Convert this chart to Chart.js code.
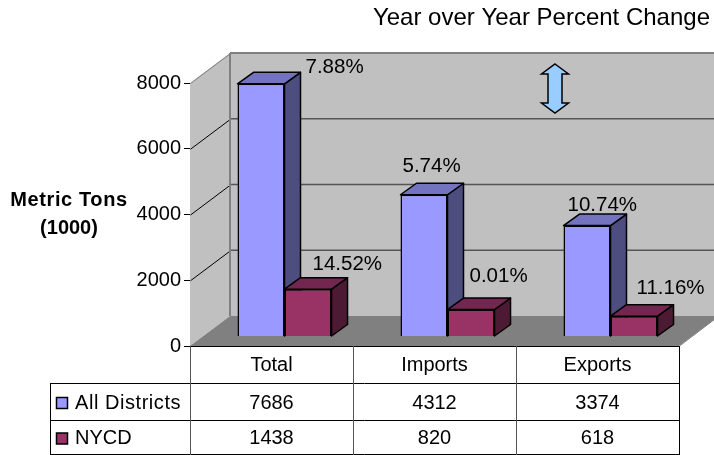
<!DOCTYPE html>
<html><head><meta charset="utf-8">
<style>html,body{margin:0;padding:0;background:#fff}canvas{display:block}</style>
<script src="https://cdn.jsdelivr.net/npm/chart.js@4"></script>
</head><body><canvas id="c" width="714" height="455"></canvas>
<script>
const categories = ['Total','Imports','Exports'];
const allDistricts = [7686,4312,3374];
const nycd = [1438,820,618];
const allChange = ['7.88%','5.74%','10.74%'];
const nycdChange = ['14.52%','0.01%','11.16%'];
const yTicks = [0,2000,4000,6000,8000];
const seriesNames = ['All Districts','NYCD'];
const chartTitle = 'Year over Year Percent Change';
const yTitle = ['Metric Tons','(1000)'];

const FONT = '"Liberation Sans", Arial, sans-serif';
const FS = 20;
const WALL = {dx:40, dy:-30};
const PLANE = {dx:13, dy:-9.5};
const BAR3D = {dx:16, dy:-11.5};
const faces = [{side:'#4D4D80',top:'#7373BF'},{side:'#4D1A33',top:'#732650'}];
// label placement relative to each bar's top-right front corner (x: left edge of text, y: middle)
const labelNudge = [[[21,-16],[-45,-28],[-43,-20]],[[-19,-25],[-25,-33],[-21,-28]]];

function poly(ctx,pts,fill,stroke,lw){
  ctx.beginPath();pts.forEach((p,i)=>i?ctx.lineTo(p[0],p[1]):ctx.moveTo(p[0],p[1]));ctx.closePath();
  if(fill){ctx.fillStyle=fill;ctx.fill();}
  if(stroke){ctx.strokeStyle=stroke;ctx.lineWidth=lw||1;ctx.stroke();}
}
const scene = {
  id:'scene',
  beforeDatasetsDraw(chart){
    const {ctx,chartArea:a,scales:{y}}=chart;
    const L=a.left,R=a.right,T=a.top,B=a.bottom,dx=WALL.dx,dy=WALL.dy;
    ctx.save();
    poly(ctx,[[L+dx,T+dy],[R+dx,T+dy],[R+dx,B+dy],[L+dx,B+dy]],'#C0C0C0');
    poly(ctx,[[L,T],[L+dx,T+dy],[L+dx,B+dy],[L,B]],'#C0C0C0');
    poly(ctx,[[L,B],[L+dx,B+dy],[R+dx,B+dy],[R,B]],'#808080');
    yTicks.forEach(v=>{
      if(v===0) return;
      const p=y.getPixelForValue(v);
      ctx.lineWidth=1;ctx.strokeStyle=v===8000?'#808080':'#000';
      ctx.beginPath();ctx.moveTo(L+.5,p+.5);ctx.lineTo(L+dx+.5,p+dy+.5);ctx.stroke();
      ctx.strokeStyle=v===8000?'#808080':'#555';ctx.lineWidth=v===8000?2:1.5;
      ctx.beginPath();ctx.moveTo(L+dx,p+dy);ctx.lineTo(R+dx,p+dy);ctx.stroke();
    });
    ctx.strokeStyle='#808080';ctx.lineWidth=2;
    ctx.beginPath();ctx.moveTo(L+dx,T+dy);ctx.lineTo(L+dx,B+dy);ctx.stroke();
    ctx.strokeStyle='#808080';ctx.lineWidth=1;
    ctx.beginPath();ctx.moveTo(R+.5,B);ctx.lineTo(R+dx,B+dy);ctx.stroke();
    // depth faces of the bars: first series, then second, so the second overlaps the first
    ctx.translate(PLANE.dx,PLANE.dy);
    ctx.lineJoin='round';
    [0,1].forEach(j=>{
      const f=faces[j],d=BAR3D;
      chart.getDatasetMeta(j).data.forEach(b=>{
        const l=b.x-b.width/2,r=b.x+b.width/2,t=b.y,base=b.base;
        poly(ctx,[[r,t],[r+d.dx,t+d.dy],[r+d.dx,base+d.dy],[r,base]],f.side,'#000',1.5);
        poly(ctx,[[l,t],[l+d.dx,t+d.dy],[r+d.dx,t+d.dy],[r,t]],f.top,'#000',1.5);
      });
    });
    ctx.restore();
  },
  beforeDatasetDraw(chart){chart.ctx.save();chart.ctx.translate(PLANE.dx,PLANE.dy);},
  afterDatasetDraw(chart){chart.ctx.restore();},
  afterDraw(chart){
    const {ctx,chartArea:a,scales:{x}}=chart;
    const L=a.left,R=a.right,B=a.bottom,tl=50;
    const rows=[383,420,454];
    ctx.save();
    ctx.textBaseline='middle';ctx.fillStyle='#000';
    // data table
    ctx.strokeStyle='#000';ctx.lineWidth=1;
    rows.forEach(r=>{ctx.beginPath();ctx.moveTo(tl,r+.5);ctx.lineTo(R,r+.5);ctx.stroke();});
    ctx.beginPath();ctx.moveTo(tl+.5,rows[0]);ctx.lineTo(tl+.5,rows[2]+1);ctx.stroke();
    [0,1,2,3].forEach(i=>{
      const vx=Math.round(L+(R-L)*i/3)+.5;
      ctx.strokeStyle=i===3?'#000':'#555';
      ctx.beginPath();ctx.moveTo(vx,B);ctx.lineTo(vx,rows[2]+1);ctx.stroke();
    });
    ctx.font=FS+'px '+FONT;ctx.textAlign='center';
    [allDistricts,nycd].forEach((arr,j)=>{
      const cy=(rows[j]+rows[j+1])/2+1.5;
      arr.forEach((v,i)=>ctx.fillText(String(v),x.getPixelForValue(i),cy));
      ctx.textAlign='left';
      ctx.letterSpacing=j===0?'0.55px':'0px';
      ctx.fillText(seriesNames[j],75,cy);
      ctx.letterSpacing='0px';
      const ds=chart.data.datasets[j];
      ctx.fillStyle=ds.backgroundColor;ctx.fillRect(56.5,cy-5.5,11,11);
      ctx.strokeStyle='#000';ctx.lineWidth=1.5;ctx.strokeRect(56.5,cy-5.5,11,11);
      ctx.fillStyle='#000';ctx.textAlign='center';
    });
    // percent labels
    ctx.textAlign='left';ctx.font='20.5px '+FONT;
    [allChange,nycdChange].forEach((arr,j)=>{
      chart.getDatasetMeta(j).data.forEach((b,i)=>{
        const n=labelNudge[j][i];
        ctx.fillText(arr[i],b.x+b.width/2+PLANE.dx+n[0],b.y+PLANE.dy+n[1]);
      });
    });
    // titles
    ctx.font='24px '+FONT;
    ctx.textAlign='right';ctx.fillText(chartTitle,710,18);
    ctx.font='bold 20px '+FONT;ctx.textAlign='center';ctx.letterSpacing='0.6px';
    ctx.fillText(yTitle[0],69,200);ctx.letterSpacing='0px';ctx.fillText(yTitle[1],69,228);
    // double-headed arrow annotation
    const ax=555;
    const s=[[0,64],[13.5,74],[7,74],[7,103],[13.5,103],[0,113],[-13.5,103],[-7,103],[-7,74],[-13.5,74]].map(p=>[ax+p[0],p[1]]);
    ctx.lineJoin='miter';poly(ctx,s,'#99CCFF','#000',1.5);
    ctx.restore();
  }
};
new Chart(document.getElementById('c'),{
  type:'bar',
  data:{labels:categories,datasets:[
    {label:seriesNames[0],data:allDistricts,backgroundColor:'#9999FF',borderColor:'#000',borderWidth:1.5},
    {label:seriesNames[1],data:nycd,backgroundColor:'#993366',borderColor:'#000',borderWidth:1.5}
  ]},
  options:{
    responsive:false,animation:false,devicePixelRatio:1,
    layout:{padding:{top:83,right:35,left:0,bottom:0}},
    categoryPercentage:0.577,barPercentage:1,
    plugins:{legend:{display:false},title:{display:false},tooltip:{enabled:false}},
    scales:{
      x:{grid:{display:false,drawTicks:false},border:{display:true,color:'#000'},
         ticks:{color:'#000',font:{family:FONT,size:FS},padding:7,maxRotation:0},
         afterFit(s){s.height=109;}},
      y:{min:0,max:8000,grid:{drawOnChartArea:false,drawTicks:true,tickLength:6,tickColor:'#000'},
         border:{display:true,color:'#666'},
         ticks:{color:'#000',stepSize:2000,font:{family:FONT,size:FS},padding:3,callback:v=>String(v)},
         afterFit(s){s.width=190;}}
    }
  },
  plugins:[scene]
});
</script></body></html>
